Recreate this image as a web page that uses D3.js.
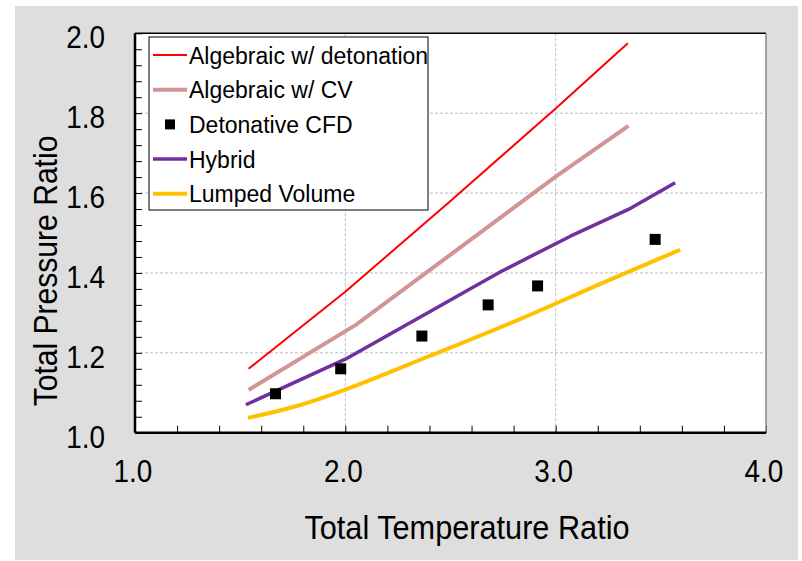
<!DOCTYPE html>
<html><head><meta charset="utf-8">
<script src="https://cdn.jsdelivr.net/npm/d3@7/dist/d3.min.js"></script>
<style>body{margin:0;background:#fff}svg{display:block}text{font-family:"Liberation Sans",Arial,sans-serif}</style>
</head><body>
<script>
const xTicks = [1.0, 2.0, 3.0, 4.0];
const yTicks = [1.0, 1.2, 1.4, 1.6, 1.8, 2.0];
const algDetX = [1.54, 2.0, 2.5, 3.0, 3.343];
const algDetY = [1.16, 1.353, 1.58, 1.812, 1.975];
const algCvX = [1.54, 2.05, 3.0, 3.346];
const algCvY = [1.107, 1.27, 1.641, 1.768];
const cfdX = [1.668, 1.978, 2.364, 2.679, 2.914, 3.473];
const cfdY = [1.0975, 1.16, 1.242, 1.32, 1.3675, 1.484];
const hybridX = [1.527, 2.0, 2.5, 2.738, 3.07, 3.346, 3.568];
const hybridY = [1.07, 1.184, 1.332, 1.403, 1.492, 1.559, 1.626];
const lumpX = [1.537, 1.79, 2.0, 2.4, 2.833, 3.262, 3.592];
const lumpY = [1.037, 1.07, 1.108, 1.192, 1.285, 1.384, 1.458];
const legendLabels = ["Algebraic w/ detonation", "Algebraic w/ CV", "Detonative CFD", "Hybrid", "Lumped Volume"];

const W = 802, H = 561;
const svg = d3.select("body").append("svg").attr("width", W).attr("height", H);
svg.append("rect").attr("x", 15).attr("y", 6).attr("width", 783).attr("height", 554).attr("fill", "#dedede");

const L = 135, R = 766, T = 33.3, B = 432.7;
const x = d3.scaleLinear().domain([1, 4]).range([L, R]);
const y = d3.scaleLinear().domain([1, 2]).range([B, T]);

svg.append("rect").attr("x", L).attr("y", T).attr("width", R - L).attr("height", B - T).attr("fill", "#fff");

// grid
const g = svg.append("g");
g.selectAll(".gx").data([2, 3]).join("line")
  .attr("x1", d => x(d)).attr("x2", d => x(d)).attr("y1", T).attr("y2", B)
  .attr("stroke", "#bdbdbd").attr("stroke-width", 1).attr("stroke-dasharray", "3,2");
g.selectAll(".gy").data([1.2, 1.4, 1.6, 1.8]).join("line")
  .attr("x1", L).attr("x2", R).attr("y1", d => y(d)).attr("y2", d => y(d))
  .attr("stroke", "#bdbdbd").attr("stroke-width", 1).attr("stroke-dasharray", "3,2");

// minor ticks (inside)
const xMinor = d3.range(0, 16).map(i => 1 + i * 0.2);
const yMinor = d3.range(0, 26).map(i => 1 + i * 0.04);
const xAxis = d3.axisTop(x).tickValues(xMinor).tickSize(7).tickFormat("");
const yAxis = d3.axisRight(y).tickValues(yMinor).tickSize(7).tickFormat("");
const xa = svg.append("g").attr("transform", `translate(0,${B})`).call(xAxis);
const ya = svg.append("g").attr("transform", `translate(${L},0)`).call(yAxis);
[xa, ya].forEach(a => { a.select(".domain").remove(); a.selectAll("line").attr("stroke", "#000").attr("stroke-width", 1); });

// border
svg.append("line").attr("x1", L).attr("x2", R).attr("y1", T).attr("y2", T).attr("stroke", "#000").attr("stroke-width", 1.5);
svg.append("line").attr("x1", R).attr("x2", R).attr("y1", T).attr("y2", B).attr("stroke", "#888").attr("stroke-width", 1.5);
svg.append("line").attr("x1", L).attr("x2", R).attr("y1", B).attr("y2", B).attr("stroke", "#000").attr("stroke-width", 2.5);
svg.append("line").attr("x1", L).attr("x2", L).attr("y1", T).attr("y2", B).attr("stroke", "#000").attr("stroke-width", 2.5);

// tick labels (slightly condensed)
svg.selectAll(".xl").data(xTicks).join("text")
  .attr("transform", d => `translate(${x(d) - 2},482) scale(0.9,1)`).attr("text-anchor", "middle")
  .attr("font-size", 31).text(d => d.toFixed(1));
svg.selectAll(".yl").data(yTicks).join("text")
  .attr("transform", d => `translate(105,${y(d) + 15}) scale(0.9,1)`).attr("text-anchor", "end")
  .attr("font-size", 31).text(d => d.toFixed(1));

svg.append("text").attr("transform", "translate(467,539) scale(0.93,1)").attr("text-anchor", "middle")
  .attr("font-size", 33).text("Total Temperature Ratio");
svg.append("text").attr("transform", "translate(57,271) rotate(-90) scale(0.97,1.05)").attr("text-anchor", "middle")
  .attr("font-size", 31).text("Total Pressure Ratio");

// lines
const line = d3.line().x(d => x(d[0])).y(d => y(d[1]));
const smooth = d3.line().x(d => x(d[0])).y(d => y(d[1])).curve(d3.curveMonotoneX);
const series = [
  { xs: algDetX, ys: algDetY, c: "#ff0000", w: 2, gen: line },
  { xs: algCvX, ys: algCvY, c: "#d29494", w: 4, gen: line },
  { xs: hybridX, ys: hybridY, c: "#7030a0", w: 3.5, gen: line },
  { xs: lumpX, ys: lumpY, c: "#ffc000", w: 4, gen: smooth }
];
series.forEach(s => {
  svg.append("path").datum(s.xs.map((v, i) => [v, s.ys[i]]))
    .attr("d", s.gen).attr("fill", "none").attr("stroke", s.c).attr("stroke-width", s.w)
    .attr("stroke-linejoin", "round");
});
const sq = 11;
svg.selectAll(".cfd").data(cfdX.map((v, i) => [v, cfdY[i]])).join("rect")
  .attr("x", d => x(d[0]) - sq / 2).attr("y", d => y(d[1]) - sq / 2)
  .attr("width", sq).attr("height", sq).attr("fill", "#000");

// legend
const lg = svg.append("g");
lg.append("rect").attr("x", 149).attr("y", 37).attr("width", 279).attr("height", 173)
  .attr("fill", "#fff").attr("stroke", "#000").attr("stroke-width", 1);
const lgStyles = [
  { type: "line", c: "#ff0000", w: 2 },
  { type: "line", c: "#d29494", w: 4 },
  { type: "sq" },
  { type: "line", c: "#7030a0", w: 3.5 },
  { type: "line", c: "#ffc000", w: 4 }
];
legendLabels.forEach((t, i) => {
  const cy = 55 + i * 34.7;
  const st = lgStyles[i];
  if (st.type === "line") {
    lg.append("line").attr("x1", 153).attr("x2", 187).attr("y1", cy).attr("y2", cy)
      .attr("stroke", st.c).attr("stroke-width", st.w);
  } else {
    lg.append("rect").attr("x", 165).attr("y", cy - 5).attr("width", 10).attr("height", 10).attr("fill", "#000");
  }
  lg.append("text").attr("x", 189).attr("y", cy + 8.5).attr("font-size", 23).text(t);
});
</script>
</body></html>
